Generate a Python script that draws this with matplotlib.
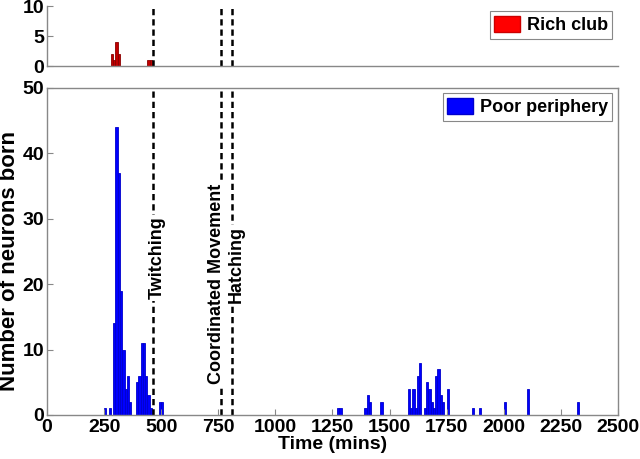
import numpy as np
import matplotlib.pyplot as plt
from matplotlib.patches import Patch

plt.rcParams['font.family'] = ['Liberation Sans', 'DejaVu Sans']
plt.rcParams['font.weight'] = 'bold'

# 10 minute bins (bin start, count)
rich_t = [280, 290, 300, 310, 440, 450]
rich_n = [2, 1, 4, 2, 1, 1]

poor_t = [250, 270, 290, 300, 310, 320, 330, 340, 350, 360,
          390, 400, 410, 420, 430, 440, 450, 490, 500,
          1270, 1280, 1390, 1400, 1410, 1460,
          1580, 1590, 1600, 1610, 1620, 1630, 1650, 1660, 1670, 1680,
          1690, 1700, 1710, 1720, 1730, 1750,
          1860, 1890, 2000, 2100, 2320]
poor_n = [1, 1, 14, 44, 37, 19, 10, 4, 6, 2,
          5, 6, 11, 11, 6, 3, 1, 2, 2,
          1, 1, 1, 3, 2, 2,
          4, 1, 4, 1, 6, 8, 1, 5, 4, 2,
          1, 6, 7, 3, 2, 4,
          1, 1, 2, 4, 2]

events = ['Twitching', 'Coordinated Movement', 'Hatching']
event_t = [465, 760, 812]

binw = 10
spine_col = '#888888'

fig = plt.figure(figsize=(6.4, 4.59), dpi=100)
ax1 = fig.add_axes([0.0734, 0.8562, 0.892, 0.1307])
ax2 = fig.add_axes([0.0734, 0.0959, 0.892, 0.7124])

ax1.bar(rich_t, rich_n, width=binw, align='edge', color='#c00000',
        edgecolor='#8b0000', linewidth=0.6)
ax2.bar(poor_t, poor_n, width=binw, align='edge', color='#0000ff',
        edgecolor='#0000cc', linewidth=0.6)

for ax in (ax1, ax2):
    for t in event_t:
        ax.axvline(t, color='k', linestyle=(0, (2.5, 1.6)), linewidth=1.8)
    ax.set_xlim(0, 2500)
    ax.set_xticks(np.arange(0, 2501, 250))
    ax.tick_params(direction='in', length=4, color=spine_col, width=0.8,
                   labelsize=14, pad=2)
    for s in ax.spines.values():
        s.set_color(spine_col)
        s.set_linewidth(1.0)
    for lab in ax.get_xticklabels() + ax.get_yticklabels():
        lab.set_fontweight('bold')

ax1.set_ylim(0, 10)
ax1.set_yticks([0, 5, 10])
ax1.set_xticks([])
ax1.spines['top'].set_visible(False)
ax1.spines['right'].set_visible(False)

ax2.set_ylim(0, 50)
ax2.set_yticks(np.arange(0, 51, 10))
ax2.xaxis.set_ticks_position('bottom')
ax2.yaxis.set_ticks_position('left')
ax2.tick_params(axis='x', pad=3)

tb = dict(facecolor='white', edgecolor='none', pad=1)
ax2.text(event_t[0] + 20, 24, events[0], rotation=90, ha='center', va='center',
         fontsize=13, fontweight='bold', bbox=tb)
ax2.text(event_t[1] - 18, 20, events[1], rotation=90, ha='center', va='center',
         fontsize=13, fontweight='bold', bbox=tb)
ax2.text(event_t[2] + 18, 23, events[2], rotation=90, ha='center', va='center',
         fontsize=13, fontweight='bold', bbox=tb)

ax2.set_xlabel('Time (mins)', fontsize=14, fontweight='bold', labelpad=0)
ax2.set_ylabel('Number of neurons born', fontsize=16, fontweight='bold')
ax2.yaxis.set_label_coords(-0.048, 0.47)

leg_kw = dict(loc='upper right', fontsize=13, fancybox=False, framealpha=1,
              edgecolor=spine_col, handlelength=1.4, handleheight=1.0,
              borderpad=0.25, handletextpad=0.4, borderaxespad=0.3)
l1 = ax1.legend([Patch(facecolor='#ff0000', edgecolor='#cc0000')], ['Rich club'], **leg_kw)
l2 = ax2.legend([Patch(facecolor='#0000ff', edgecolor='#0000cc')], ['Poor periphery'], **leg_kw)
for l in (l1, l2):
    for t in l.get_texts():
        t.set_fontweight('bold')
    l.get_frame().set_linewidth(0.8)

fig.savefig('out.png', dpi=100)
